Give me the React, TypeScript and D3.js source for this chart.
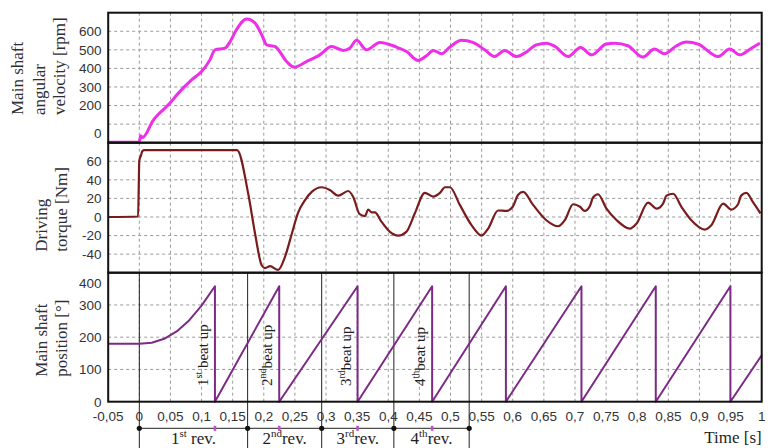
import React from "react";
import * as d3 from "d3";

// ---------- data ----------
const xTickValues = [-0.05, 0, 0.05, 0.1, 0.15, 0.2, 0.25, 0.3, 0.35, 0.4, 0.45, 0.5, 0.55, 0.6, 0.65, 0.7, 0.75, 0.8, 0.85, 0.9, 0.95, 1];
const xTickLabels = ["-0,05", "0", "0,05", "0,1", "0,15", "0,2", "0,25", "0,3", "0,35", "0,4", "0,45", "0,5", "0,55", "0,6", "0,65", "0,7", "0,75", "0,8", "0,85", "0,9", "0,95", "1"];

const velGrid = [100, 200, 300, 400, 500, 600];
const velTickPos = [600, 500, 400, 300, 200, 50];
const velTickText = ["600", "500", "400", "300", "200", "0"];

const torGrid = [-40, -20, 0, 20, 40, 60];
const torTickPos = [60, 40, 20, 0, -20, -40];
const torTickText = ["60", "40", "20", "0", "-20", "-40"];

const posGrid = [100, 200, 300];
const posTickPos = [368, 300, 200, 100, 0];
const posTickText = ["400", "300", "200", "100", "0"];

const velocity: [number, number][] = [
  [-0.05, 3], [0, 3], [0.002, 38], [0.005, 28], [0.0225, 122], [0.049, 212], [0.065, 275], [0.084, 338],
  [0.1, 383], [0.1135, 446], [0.1216, 500], [0.1376, 509], [0.146, 545], [0.156, 608], [0.1725, 666],
  [0.186, 644], [0.1966, 581], [0.2046, 527], [0.218, 518], [0.2367, 437], [0.2484, 407], [0.2688, 437],
  [0.29, 473], [0.309, 518], [0.3276, 497], [0.338, 509], [0.349, 551], [0.365, 500], [0.3866, 540],
  [0.413, 515], [0.4294, 491], [0.448, 443], [0.4615, 468], [0.472, 497], [0.4856, 479], [0.499, 515],
  [0.5177, 551], [0.536, 540], [0.555, 500], [0.571, 464], [0.587, 497], [0.606, 464], [0.619, 482],
  [0.638, 527], [0.654, 536], [0.667, 520], [0.689, 464], [0.709, 513], [0.7265, 473], [0.75, 531],
  [0.764, 536], [0.785, 522], [0.809, 461], [0.828, 504], [0.844, 479], [0.863, 522], [0.879, 542],
  [0.898, 531], [0.93, 464], [0.9486, 504], [0.9647, 473], [0.9835, 509], [0.997, 536],
];

const torque: [number, number][] = [
  [-0.05, 0], [-0.002, 0.5], [0, 61], [0.0025, 66], [0.005, 71], [0.008, 72], [0.157, 72], [0.175, 25],
  [0.186, -18], [0.1966, -52], [0.202, -55], [0.21, -53], [0.223, -57], [0.234, -43], [0.245, -18],
  [0.2553, 5], [0.266, 18], [0.277, 27], [0.293, 32], [0.306, 29], [0.3196, 23], [0.3356, 28],
  [0.3437, 21.5], [0.354, 3], [0.3625, 1], [0.3678, 8], [0.373, 5], [0.3785, 5], [0.389, -5],
  [0.4026, -16], [0.416, -20], [0.429, -16], [0.4427, 4], [0.4588, 26], [0.472, 22], [0.483, 26],
  [0.491, 32], [0.499, 32], [0.515, 13], [0.534, -9], [0.55, -20], [0.5605, -12.5], [0.5765, 7],
  [0.59, 6.5], [0.6, 11], [0.6087, 24], [0.6167, 27], [0.6327, 13], [0.654, -3.5], [0.673, -10],
  [0.6836, -3.5], [0.697, 13.7], [0.708, 11], [0.7157, 6.5], [0.7238, 11.5], [0.729, 21], [0.737, 24.5],
  [0.7506, 9], [0.767, -3.5], [0.788, -12.5], [0.799, -7], [0.8174, 15.5], [0.831, 9], [0.8415, 14.4],
  [0.847, 23], [0.8576, 25], [0.871, 11], [0.887, -3.5], [0.9085, -13.6], [0.919, -9], [0.938, 14.4],
  [0.951, 8], [0.962, 13.7], [0.967, 23], [0.9755, 26], [0.986, 16], [0.998, 4],
];

const position: [number, number][] = [
  [-0.05, 180], [0, 180], [0.02, 183], [0.04, 195], [0.06, 218], [0.08, 252], [0.1, 298], [0.1215, 358],
  [0.1215, 0], [0.2248, 358], [0.2248, 0], [0.3507, 358], [0.3507, 0], [0.4705, 358], [0.4705, 0],
  [0.589, 358], [0.589, 0], [0.7104, 358], [0.7104, 0], [0.8298, 358], [0.8298, 0], [0.9497, 358],
  [0.9497, 0], [1.0, 144],
];

const revBounds = [0, 0.174, 0.293, 0.409, 0.53];
const beatTimes = [0.1215, 0.2248, 0.3507, 0.4705];
const ordNum = ["1", "2", "3", "4"];
const ordSup = ["st", "nd", "rd", "th"];

// ---------- layout ----------
const W = 771, H = 448;
const XL = 108.2, XR = 761.7;
const P1: [number, number] = [12.7, 142.7];
const P2: [number, number] = [142.7, 272.7];
const P3: [number, number] = [272.7, 401.7];

const SANS = "'Liberation Sans', Arial, sans-serif";
const SERIF = "'Liberation Serif', 'Times New Roman', serif";

export default function App() {
  const x = d3.scaleLinear().domain([-0.05, 1]).range([XL, XR]);
  const yV = d3.scaleLinear().domain([0, 700]).range([P1[1], P1[0]]);
  const yT = d3.scaleLinear().domain([-60, 80]).range([P2[1], P2[0]]);
  const yP = d3.scaleLinear().domain([0, 400]).range([P3[1], P3[0]]);

  const lineV = d3.line<[number, number]>().x(d => x(d[0])).y(d => yV(d[1])).curve(d3.curveMonotoneX);
  const lineT = d3.line<[number, number]>().x(d => x(d[0])).y(d => yT(d[1])).curve(d3.curveMonotoneX);
  const lineP = d3.line<[number, number]>().x(d => x(d[0])).y(d => yP(d[1]));

  const innerX = xTickValues.filter(v => v > -0.05 && v < 1);

  const grid = (p: [number, number], vals: number[], ys: (v: number) => number, key: string) => (
    <g key={key} stroke="#9a9a9a" strokeWidth={1} strokeDasharray="3,3">
      {innerX.map(v => <line key={"v" + v} x1={x(v)} x2={x(v)} y1={p[0]} y2={p[1]} />)}
      {vals.map(v => <line key={"h" + v} x1={XL} x2={XR} y1={ys(v)} y2={ys(v)} />)}
    </g>
  );

  const yLabels = (pos: number[], txt: string[], ys: (v: number) => number, key: string) => (
    <g key={key} fontFamily={SANS} fontSize={13.5} fill="#333" textAnchor="end">
      {pos.map((v, i) => <text key={i} x={101.5} y={ys(v) + 4.8}>{txt[i]}</text>)}
    </g>
  );

  const title = (lines: string[], xs: number[], yStart: number, key: string) => (
    <g key={key} fontFamily={SERIF} fontSize={17} fill="#2e2e38">
      {lines.map((l, i) => (
        <text key={i} transform={`translate(${xs[i] + 5},${yStart}) rotate(-90)`}>{l}</text>
      ))}
    </g>
  );

  const revY = 428.3;

  return (
    <svg width={W} height={H} style={{ position: "absolute", left: 0, top: 0, background: "#fff" }}>
      <rect x={0} y={0} width={W} height={H} fill="#fff" />

      {grid(P1, velGrid, yV, "g1")}
      {grid(P2, torGrid, yT, "g2")}
      {grid(P3, posGrid, yP, "g3")}

      {/* rev boundary lines */}
      <g stroke="#222" strokeWidth={1}>
        {revBounds.map(v => <line key={v} x1={x(v)} x2={x(v)} y1={P3[0]} y2={H} />)}
      </g>

      <path d={lineV(velocity) || ""} fill="none" stroke="#ee2ee8" strokeWidth={3} strokeLinejoin="round" />
      <path d={lineT(torque) || ""} fill="none" stroke="#7a1c1c" strokeWidth={2.2} strokeLinejoin="round" />
      <path d={lineP(position) || ""} fill="none" stroke="#7c2a86" strokeWidth={2} strokeLinejoin="round" />

      {/* frames */}
      <g fill="none" stroke="#111" strokeWidth={2}>
        <rect x={XL} y={P1[0]} width={XR - XL} height={P1[1] - P1[0]} />
        <rect x={XL} y={P2[0]} width={XR - XL} height={P2[1] - P2[0]} />
        <rect x={XL} y={P3[0]} width={XR - XL} height={P3[1] - P3[0]} />
      </g>

      {yLabels(velTickPos, velTickText, yV, "l1")}
      {yLabels(torTickPos, torTickText, yT, "l2")}
      {yLabels(posTickPos, posTickText, yP, "l3")}

      <g fontFamily={SANS} fontSize={13.5} fill="#333" textAnchor="middle">
        {xTickValues.map((v, i) => <text key={i} x={x(v)} y={421}>{xTickLabels[i]}</text>)}
      </g>

      {title(["Main shaft", "angular", "velocity [rpm]"], [18.3, 40, 60], 115, "t1")}
      {title(["Driving", "torque [Nm]"], [41.7, 61.7], 251.7, "t2")}
      {title(["Main shaft", "position [°]"], [41.7, 61.7], 376.7, "t3")}

      {/* beat-up labels */}
      <g fontFamily={SERIF} fontSize={15} fill="#1e1e1e">
        {beatTimes.map((t, i) => (
          <text key={i} transform={`translate(${x(t) - 7},386) rotate(-90)`}>
            {ordNum[i]}
            <tspan fontSize={10} dy={-6}>{ordSup[i]}</tspan>
            <tspan dy={6}>{i === 0 ? " beat up" : "beat up"}</tspan>
          </text>
        ))}
      </g>

      {/* revolution bracket */}
      <line x1={x(revBounds[0])} x2={x(revBounds[revBounds.length - 1])} y1={revY} y2={revY} stroke="#222" strokeWidth={1} />
      {revBounds.map(v => <circle key={v} cx={x(v)} cy={revY} r={2.6} fill="#111" />)}
      {beatTimes.map(t => <rect key={t} x={x(t) - 1.3} y={revY - 2.5} width={2.6} height={5} fill="#c050c8" />)}
      <g fontFamily={SERIF} fontSize={17} fill="#1e1e1e" textAnchor="middle">
        {ordNum.map((n, i) => (
          <text key={i} x={(x(revBounds[i]) + x(revBounds[i + 1])) / 2} y={444}>
            {n}
            <tspan fontSize={11} dy={-7}>{ordSup[i]}</tspan>
            <tspan dy={7}>{i === 0 ? " rev." : "rev."}</tspan>
          </text>
        ))}
      </g>

      <text x={761.7} y={443} fontFamily={SERIF} fontSize={17} fill="#1e1e1e" textAnchor="end">Time [s]</text>
    </svg>
  );
}
